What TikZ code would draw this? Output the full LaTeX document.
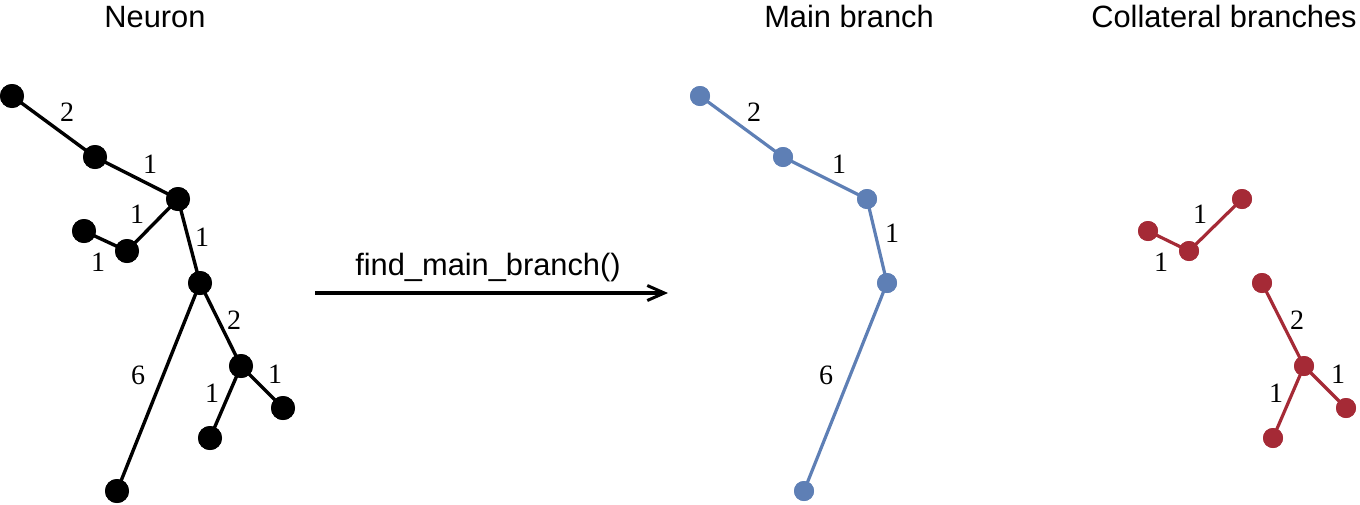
\documentclass[tikz,border=0pt]{standalone}
\usepackage{fontspec}
\newfontfamily\titlefont{Liberation Sans}
\newfontfamily\numfont{Liberation Serif}
\usetikzlibrary{arrows.meta}
\definecolor{mainblue}{HTML}{5E7FB5}
\definecolor{colred}{HTML}{A52A36}
\tikzset{
  blk/.style={circle,fill=black,inner sep=0pt,minimum size=24pt},
  bdot/.style={circle,fill=mainblue,inner sep=0pt,minimum size=20pt},
  rdot/.style={circle,fill=colred,inner sep=0pt,minimum size=20pt},
  bedge/.style={line width=3.4pt,black},
  blue edge/.style={line width=3.2pt,mainblue},
  red edge/.style={line width=3.2pt,colred},
  wlab/.style={font=\numfont\fontsize{28}{28}\selectfont,inner sep=0pt},
  ttl/.style={font=\titlefont\fontsize{30.8}{30.8}\selectfont,anchor=base,inner sep=0pt},
}
\begin{document}
\begin{tikzpicture}[x=1pt,y=-1pt]
\useasboundingbox (0,0) rectangle (1360,504);
% titles
\node[ttl] (t1) at (155,27) {Neuron};
\node[ttl] (t2) at (849,27) {Main branch};
\node[ttl] (t3) at (1224,27) {Collateral branches};
% neuron
\node[blk] (a) at (12,96) {};
\node[blk] (b) at (95,157) {};
\node[blk] (c) at (178,199) {};
\node[blk] (d) at (84,231) {};
\node[blk] (e) at (127,251) {};
\node[blk] (f) at (200,283) {};
\node[blk] (g) at (241,366) {};
\node[blk] (h) at (283,408) {};
\node[blk] (i) at (210,438) {};
\node[blk] (j) at (117,491) {};
\draw[bedge] (a.center) -- (b.center) -- (c.center) -- (f.center) -- (j.center);
\draw[bedge] (c.center) -- (e.center) -- (d.center);
\draw[bedge] (f.center) -- (g.center) -- (h.center);
\draw[bedge] (g.center) -- (i.center);
\foreach \n in {a,b,c,d,e,f,g,h,i,j} {\fill (\n) circle (12pt);}
\node[wlab] (l1) at (67,112) {2};
\node[wlab] (l2) at (150,164) {1};
\node[wlab] (l3) at (137,214) {1};
\node[wlab] (l4) at (98,262) {1};
\node[wlab] (l5) at (202,237) {1};
\node[wlab] (l6) at (234,320) {2};
\node[wlab] (l7) at (138,375) {6};
\node[wlab] (l8) at (275,374) {1};
\node[wlab] (l9) at (212,393) {1};
% arrow
\coordinate (s) at (315,293);
\coordinate (t) at (668,293);
\draw[line width=3.4pt,-{Straight Barb[length=17pt,width=15pt,line width=3pt]}] (s) -- (t);
\node[ttl] (fn) at (488,275) {find\_main\_branch()};
% main branch
\node[bdot] (ma) at (700,96) {};
\node[bdot] (mb) at (783,157) {};
\node[bdot] (mc) at (867,199) {};
\node[bdot] (mf) at (887,283) {};
\node[bdot] (mj) at (804,491) {};
\draw[blue edge] (ma.center) -- (mb.center) -- (mc.center) -- (mf.center) -- (mj.center);
\foreach \n in {ma,mb,mc,mf,mj} {\fill[mainblue] (\n) circle (10pt);}
\node[wlab] (m1) at (754,112) {2};
\node[wlab] (m2) at (839,164) {1};
\node[wlab] (m3) at (892,233) {1};
\node[wlab] (m4) at (826,375) {6};
% collateral
\node[rdot] (rc) at (1242,199) {};
\node[rdot] (rd) at (1148,231) {};
\node[rdot] (re) at (1189,251) {};
\node[rdot] (rf) at (1262,283) {};
\node[rdot] (rg) at (1304,366) {};
\node[rdot] (rh) at (1346,408) {};
\node[rdot] (ri) at (1273,438) {};
\draw[red edge] (rc.center) -- (re.center) -- (rd.center);
\draw[red edge] (rf.center) -- (rg.center) -- (rh.center);
\draw[red edge] (rg.center) -- (ri.center);
\foreach \n in {rc,rd,re,rf,rg,rh,ri} {\fill[colred] (\n) circle (10pt);}
\node[wlab] (r1) at (1200,214) {1};
\node[wlab] (r2) at (1161,262) {1};
\node[wlab] (r3) at (1297,320) {2};
\node[wlab] (r4) at (1338,374) {1};
\node[wlab] (r5) at (1276,393) {1};
\end{tikzpicture}
\end{document}
